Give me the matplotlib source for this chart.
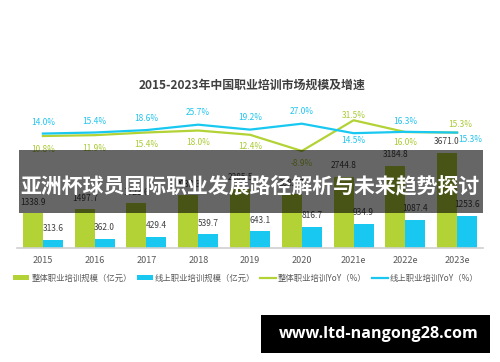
import numpy as np
import matplotlib
matplotlib.use("Agg")
from matplotlib import pyplot as plt
from matplotlib.patches import Rectangle

plt.rcParams['font.family'] = ['Noto Sans CJK SC', 'DejaVu Sans']

# data
years = ['2015', '2016', '2017', '2018', '2019', '2020', '2021e', '2022e', '2023e']
total_scale = [1338.9, 1497.7, 1723.6, 2033.3, 2285.5, 2082.7, 2744.8, 3184.8, 3671.0]
online_scale = [313.6, 362.0, 429.4, 539.7, 643.1, 816.7, 934.9, 1087.4, 1253.6]
total_yoy = [10.8, 11.9, 15.4, 18.0, 12.4, -8.9, 31.5, 16.0, 15.3]
online_yoy = [14.0, 15.4, 18.6, 25.7, 19.2, 27.0, 14.5, 16.3, 15.3]

green = '#b2d235'
blue = '#19c8f0'
green_txt = '#a9cb34'
blue_txt = '#20c4ee'

# label offsets in pixels (dx, dy), positive dy = up
total_off = [(0, -13), (0, -13), (0, -12), (0, -12), (0, -12), (0, -13), (0, 5), (0, -10), (3, 8)]
online_off = [(0, 11), (0, 11), (0, 12), (0, 12), (0, 12), (0, 12), (0, -7), (0, 10), (13, -7)]

W, H = 500, 362
fig = plt.figure(figsize=(5, 3.62), dpi=100)

ax = fig.add_axes([17 / W, (H - 248) / H, 466 / W, 148 / H])
x = np.arange(len(years))
bw = 0.386
ax.bar(x - bw / 2, total_scale, bw, color=green, label='整体职业培训规模（亿元）')
ax.bar(x + bw / 2, online_scale, bw, color=blue, label='线上职业培训规模（亿元）')
for i in range(len(years)):
    ax.annotate('%.1f' % total_scale[i], (x[i] - bw / 2, total_scale[i]), xytext=(0, 11),
                textcoords='offset pixels', ha='center', va='center', fontsize=6, color='#404040')
    ax.annotate('%.1f' % online_scale[i], (x[i] + bw / 2, online_scale[i]), xytext=(0, 11),
                textcoords='offset pixels', ha='center', va='center', fontsize=6, color='#404040')
ax.set_xlim(-0.5, len(years) - 0.5)
ax.set_ylim(0, 148 / 0.0259)
ax.set_xticks(x)
ax.set_xticklabels(years, fontsize=6.5, color='#595959')
ax.tick_params(axis='x', length=0, pad=6)
ax.set_yticks([])
for s in ['top', 'right', 'left']:
    ax.spines[s].set_visible(False)
ax.spines['bottom'].set_color('#d0d0d0')
ax.spines['bottom'].set_linewidth(1.2)

ax2 = ax.twinx()
ax2.plot(x, total_yoy, color=green, lw=1.6, label='整体职业培训YoY（%）')
ax2.plot(x, online_yoy, color=blue, lw=1.6, label='线上职业培训YoY（%）')
for i in range(len(years)):
    ax2.annotate('%.1f%%' % total_yoy[i], (x[i], total_yoy[i]), xytext=total_off[i],
                 textcoords='offset pixels', ha='center', va='center', fontsize=6, color=green_txt)
    ax2.annotate('%.1f%%' % online_yoy[i], (x[i], online_yoy[i]), xytext=online_off[i],
                 textcoords='offset pixels', ha='center', va='center', fontsize=6, color=blue_txt)
ax2.set_ylim(10.8 - 112 / 0.76, 10.8 + 36 / 0.76)
ax2.set_yticks([])
ax2.axis('off')

h1, l1 = ax.get_legend_handles_labels()
h2, l2 = ax2.get_legend_handles_labels()
fig.legend(h1 + h2, l1 + l2, loc='center', bbox_to_anchor=(246 / W, (H - 278) / H), ncol=4,
           frameon=False, fontsize=6, handlelength=1.9, handleheight=0.6, handletextpad=0.25,
           columnspacing=0.6, labelcolor='#595959')

fig.text(252 / W, (H - 85) / H, '2015-2023年中国职业培训市场规模及增速', ha='center', va='center',
         fontsize=8.6, fontweight='bold', color='#3f3f3f')

# overlay banner
fig.patches.append(Rectangle((19 / W, (H - 213) / H), 464 / W, 63 / H, transform=fig.transFigure,
                             facecolor='black', alpha=0.6, edgecolor='none', zorder=5))
fig.text(250 / W, (H - 186) / H, '亚洲杯球员国际职业发展路径解析与未来趋势探讨', ha='center', va='center',
         fontsize=15, fontweight='bold', color='white', zorder=6)

# watermark
fig.patches.append(Rectangle((261 / W, (H - 353) / H), 229 / W, 38 / H, transform=fig.transFigure,
                             facecolor='black', edgecolor='none', zorder=5))
fig.text(379 / W, (H - 334) / H, 'www.ltd-nangong28.com', ha='center', va='center',
         fontsize=11.6, fontweight='bold', color='white', family=['Open Sans', 'DejaVu Sans'], zorder=6)

fig.savefig('out.png', dpi=100)
